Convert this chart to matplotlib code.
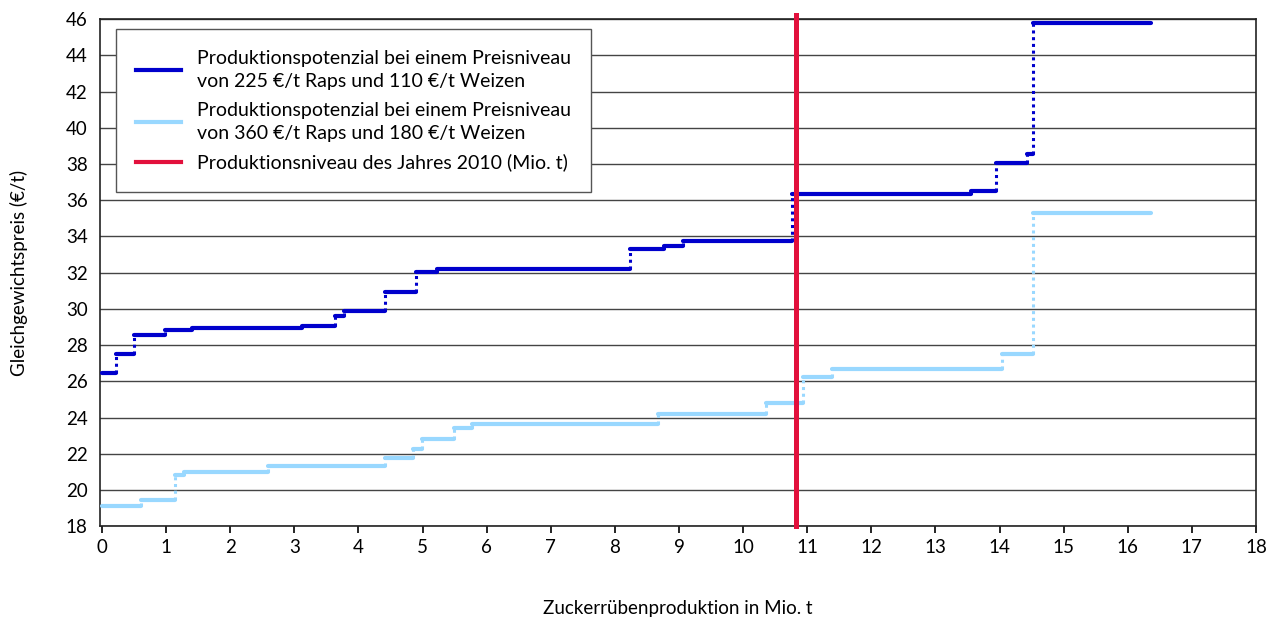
import matplotlib
matplotlib.use("Agg")
import matplotlib.pyplot as plt
from matplotlib.lines import Line2D

plt.rcParams['font.family'] = ['Lato', 'DejaVu Sans']

# Dark blue series: price level 225 €/t Raps, 110 €/t Weizen
dark_x = [0, 0.22, 0.50, 0.99, 1.41, 3.12, 3.64, 3.77, 4.41, 4.90, 5.23, 8.23,
          8.76, 9.06, 10.76, 13.55, 13.94, 14.43, 14.52, 16.37]
dark_y = [26.47, 27.5, 28.57, 28.81, 28.94, 29.05, 29.6, 29.86, 30.93, 32.05,
          32.18, 33.3, 33.48, 33.74, 36.33, 36.53, 38.05, 38.55, 45.8]

# Light blue series: price level 360 €/t Raps, 180 €/t Weizen
light_x = [0, 0.61, 1.14, 1.28, 2.59, 4.42, 4.85, 4.99, 5.49, 5.77, 8.68, 10.36,
           10.94, 11.38, 14.04, 14.52, 16.37]
light_y = [19.1, 19.45, 20.85, 20.98, 21.3, 21.75, 22.25, 22.82, 23.4, 23.65,
           24.2, 24.8, 26.22, 26.7, 27.5, 35.3]

production_2010 = 10.83

labels = ["Produktionspotenzial bei einem Preisniveau\nvon 225 €/t Raps und 110 €/t Weizen",
          "Produktionspotenzial bei einem Preisniveau\nvon 360 €/t Raps und 180 €/t Weizen",
          "Produktionsniveau des Jahres 2010 (Mio. t)"]

c_dark = '#0000CC'
c_light = '#99D8FF'
c_red = '#E2103C'

fig = plt.figure(figsize=(12.79, 6.19), dpi=100)
ax = fig.add_axes([0.0782, 0.150, 0.9038, 0.819])

def steps(xs, ys, color):
    ax.hlines(ys, xs[:-1], xs[1:], colors=color, lw=3.0, zorder=3, capstyle='round')
    ax.vlines(xs[1:-1], ys[:-1], ys[1:], colors=color, lw=2.2, linestyles=(0, (1, 1.2)), zorder=3)

steps(light_x, light_y, c_light)
steps(dark_x, dark_y, c_dark)
ax.axvline(production_2010, ymin=0, ymax=1.008, color=c_red, lw=3.6, zorder=4, clip_on=False)

ax.set_xlim(-0.03, 18)
ax.set_ylim(18, 46)
ax.set_xticks(range(0, 19))
ax.set_yticks(range(18, 47, 2))
ax.yaxis.grid(True, color='#444444', lw=1.0)
ax.set_axisbelow(True)
ax.tick_params(axis='y', length=0, labelsize=13.5, pad=9)
ax.tick_params(axis='x', length=5, width=1.2, direction='out', labelsize=13.5, pad=4)
for s in ax.spines.values():
    s.set_color('#222222')
    s.set_linewidth(1.2)

ax.set_xlabel('Zuckerrübenproduktion in Mio. t', fontsize=13.5, labelpad=32)
ax.set_ylabel('Gleichgewichtspreis (€/t)', fontsize=13.5, labelpad=27)

handles = [Line2D([], [], color=c_dark, lw=3),
           Line2D([], [], color=c_light, lw=3),
           Line2D([], [], color=c_red, lw=3)]
leg = ax.legend(handles, labels, loc='upper left', bbox_to_anchor=(0.0138, 0.98),
                fontsize=14, frameon=True, fancybox=False, framealpha=1,
                edgecolor='#555555', handlelength=2.3, handletextpad=0.8,
                borderpad=1.05, labelspacing=0.6, borderaxespad=0)
for t in leg.get_texts():
    t.set_linespacing(1.45)
leg.get_frame().set_linewidth(1.0)

fig.savefig('out.png', dpi=100)
